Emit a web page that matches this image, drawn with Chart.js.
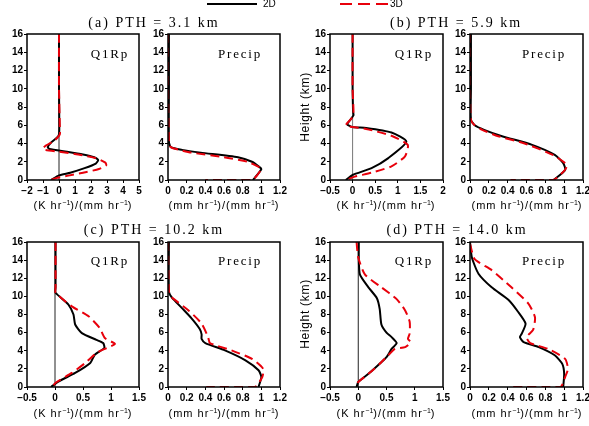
<!DOCTYPE html>
<html>
<head>
<meta charset="utf-8">
<script src="https://cdn.jsdelivr.net/npm/chart.js@4.4.1/dist/chart.umd.min.js"></script>
<style>
body { margin: 0; width: 589px; height: 426px; overflow: hidden; background: #fff; position: relative; font-family: "Liberation Sans", sans-serif; }
.box { position: absolute; }
.title { position: absolute; font-family: "Liberation Serif", serif; font-size: 14px; letter-spacing: 2px; white-space: nowrap; transform: translate(-50%, -50%); }
.plab { position: absolute; font-family: "Liberation Serif", serif; font-size: 13px; letter-spacing: 1.8px; white-space: nowrap; transform: translate(-50%, -50%); }
.unit { position: absolute; font-size: 11px; letter-spacing: 1px; white-space: nowrap; transform: translate(-50%, -50%); }
.unit sup { font-size: 7px; letter-spacing: 0; }
.ht { position: absolute; font-size: 12px; letter-spacing: 0.7px; white-space: nowrap; transform: translate(-50%, -50%) rotate(-90deg); }
.leg { position: absolute; font-size: 10px; transform: translateY(-50%); }
</style>
</head>
<body>
<script>
// profiles as [value, height km]
const q1a2d = [[0,16],[0,10],[0.02,6],[0,5],[-0.15,4.6],[-0.5,4.1],[-0.7,3.6],[-0.6,3.4],[0.5,3.1],[1.5,2.8],[2.2,2.5],[2.45,2.2],[2.3,1.8],[1.6,1.3],[0.7,0.8],[0,0.5],[-0.5,0]];
const q1a3d = [[0,16],[0,10],[0.05,6],[0.05,5],[-0.3,4.3],[-0.8,3.8],[-1.0,3.5],[-0.9,3.3],[0,3.1],[1.2,2.8],[2.3,2.4],[2.9,1.9],[2.95,1.6],[2.5,1.2],[1.5,0.8],[0.5,0.45],[-0.2,0.2],[-0.5,0]];
const pra2d = [[0.01,16],[0.01,10],[0.01,4.2],[0.03,3.6],[0.15,3.3],[0.35,3.0],[0.75,2.5],[0.9,2.0],[0.97,1.5],[1.0,1.2],[0.91,0]];
const pra3d = [[0,16],[0,10],[0.01,4.2],[0.03,3.6],[0.12,3.3],[0.25,3.0],[0.6,2.5],[0.85,2.0],[0.96,1.5],[1.0,1.2],[0.9,0],[0.4,0]];

const q1b2d = [[0,16],[0,10],[0.01,7.5],[0.02,7.1],[-0.05,6.6],[-0.12,6.1],[0,5.8],[0.3,5.7],[0.86,5.2],[1.19,4.2],[0.79,2.4],[0.42,1.3],[0,0.55],[-0.15,0]];
const q1b3d = [[0,16],[0,10],[0.02,7.5],[0,6.9],[-0.15,6.0],[0,5.8],[0.3,5.6],[0.86,4.85],[1.22,3.85],[1.16,2.6],[0.86,1.5],[0.42,0.8],[0.05,0.37],[-0.15,0]];
const prb2d = [[0.01,16],[0.01,10],[0.01,6.6],[0.05,6.0],[0.15,5.5],[0.34,4.8],[0.66,3.85],[0.9,2.75],[0.99,1.85],[1.01,1.1],[0.89,0]];
const prb3d = [[0,16],[0,10],[0.01,6.6],[0.05,6.0],[0.13,5.5],[0.3,4.8],[0.58,4.0],[0.88,2.75],[1.03,1.65],[1.0,1.0],[0.88,0],[0.43,0]];

const q1c2d = [[0.01,16],[0.01,11],[0.01,10.4],[0.24,9.1],[0.33,8.0],[0.36,6.9],[0.48,5.95],[0.74,5.2],[0.86,4.85],[0.88,4.3],[0.71,3.55],[0.63,2.65],[0.36,1.55],[0.06,0.6],[-0.07,0]];
const q1c3d = [[0.01,16],[0.01,11],[0.01,10.4],[0.3,8.9],[0.6,7.8],[0.8,6.5],[0.89,5.4],[1.07,4.75],[0.92,4.3],[0.74,3.75],[0.54,2.65],[0.3,1.55],[0.03,0.55],[-0.06,0]];
const prc2d = [[0.01,16],[0.01,10.5],[0.04,9.9],[0.15,8.7],[0.25,7.6],[0.34,6.4],[0.36,5.8],[0.36,5.3],[0.4,4.85],[0.61,4.05],[0.83,2.95],[0.97,1.85],[1.0,1.1],[0.97,0]];
const prc3d = [[0,16],[0.01,10.5],[0.04,9.9],[0.22,8.45],[0.36,7.0],[0.43,5.5],[0.45,4.85],[0.68,4.05],[0.9,3.1],[1.02,2.0],[1.01,1.1],[0.93,0],[0.41,0]];

const q1d2d = [[0.01,16],[0.01,14],[0.03,12.4],[0.18,11.0],[0.33,9.8],[0.38,8.6],[0.41,6.9],[0.5,6.0],[0.59,5.5],[0.68,4.85],[0.59,4.2],[0.5,3.3],[0.35,2.4],[0.18,1.45],[0,0.55],[-0.03,0]];
const q1d3d = [[-0.03,16],[0,14.3],[0.12,12.4],[0.41,11.0],[0.68,9.7],[0.83,8.45],[0.91,7.2],[0.91,5.9],[0.88,5.3],[0.93,4.95],[0.83,4.4],[0.65,4.2],[0.53,3.5],[0.38,2.55],[0.18,1.45],[0,0.55],[-0.04,0]];
const prd2d = [[0,16],[0.02,14.3],[0.09,12.5],[0.23,11.0],[0.41,9.6],[0.51,8.3],[0.59,7.0],[0.55,5.9],[0.53,5.5],[0.57,4.95],[0.73,4.4],[0.9,3.5],[0.98,2.55],[1.0,1.45],[0.99,0]];
const prd3d = [[0,15.8],[0.05,14.1],[0.23,12.9],[0.44,11.0],[0.62,9.2],[0.69,7.7],[0.67,6.3],[0.6,5.5],[0.64,4.85],[0.83,4.2],[1.01,3.1],[1.04,2.0],[1.01,1.1],[0.96,0],[0.45,0]];

const zeroLine = [[0,0],[0,16]];

// x axis ranges [min, max, step]
const q1RangeA = [-2, 5, 1];
const q1RangeB = [-0.5, 2, 0.5];
const q1RangeCD = [-0.5, 1.5, 0.5];
const precipRange = [0, 1.2, 0.2];
const heightRange = [0, 16, 2];

const titles = ['(a) PTH = 3.1 km', '(b) PTH = 5.9 km', '(c) PTH = 10.2 km', '(d) PTH = 14.0 km'];

const panels = [
  { x0: 27,  x1: 139, y0: 34,  y1: 180, a: q1a2d, b: q1a3d, r: q1RangeA,    q1: true },
  { x0: 168, x1: 280, y0: 34,  y1: 180, a: pra2d, b: pra3d, r: precipRange, q1: false },
  { x0: 330, x1: 443, y0: 34,  y1: 180, a: q1b2d, b: q1b3d, r: q1RangeB,    q1: true, zc: '#777' },
  { x0: 470, x1: 583, y0: 34,  y1: 180, a: prb2d, b: prb3d, r: precipRange, q1: false },
  { x0: 27,  x1: 139, y0: 242, y1: 387, a: q1c2d, b: q1c3d, r: q1RangeCD,   q1: true },
  { x0: 168, x1: 280, y0: 242, y1: 387, a: prc2d, b: prc3d, r: precipRange, q1: false },
  { x0: 330, x1: 443, y0: 242, y1: 387, a: q1d2d, b: q1d3d, r: q1RangeCD,   q1: true },
  { x0: 470, x1: 583, y0: 242, y1: 387, a: prd2d, b: prd3d, r: precipRange, q1: false }
];

const pts = arr => arr.map(p => ({ x: p[0], y: p[1] }));
const fmt = v => String(Number(v.toFixed(2))).replace('-', '\u2212');

const frame = {
  id: 'frame',
  afterDatasetsDraw(c) {
    const a = c.chartArea, ctx = c.ctx;
    ctx.save();
    ctx.strokeStyle = '#000';
    ctx.lineWidth = 1.5;
    ctx.strokeRect(a.left, a.top, a.right - a.left, a.bottom - a.top);
    ctx.restore();
  }
};

const YW = 30, PT = 10, PR = 12, XH = 22;
const tickFont = { family: 'Liberation Sans', size: 10, weight: 'bold' };

panels.forEach(p => {
  const div = document.createElement('div');
  div.className = 'box';
  div.style.left = (p.x0 - YW) + 'px';
  div.style.top = (p.y0 - PT) + 'px';
  div.style.width = (p.x1 - p.x0 + YW + PR) + 'px';
  div.style.height = (p.y1 - p.y0 + PT + XH) + 'px';
  const cv = document.createElement('canvas');
  div.appendChild(cv);
  document.body.appendChild(div);

  const ds = [
    { data: pts(p.b), borderColor: '#e8000b', borderWidth: 2, borderDash: [9, 5] },
    { data: pts(p.a), borderColor: '#000', borderWidth: 2 }
  ];
  if (p.q1) ds.push({ data: pts(zeroLine), borderColor: p.zc || '#222', borderWidth: 1, tension: 0 });

  new Chart(cv, {
    type: 'scatter',
    data: { datasets: ds },
    options: {
      responsive: true,
      maintainAspectRatio: false,
      animation: false,
      events: [],
      layout: { padding: { top: PT, right: PR, left: 0, bottom: 0 } },
      elements: { point: { radius: 0 }, line: { tension: 0.2, fill: false } },
      datasets: { scatter: { showLine: true } },
      plugins: { legend: { display: false }, tooltip: { enabled: false } },
      scales: {
        x: {
          type: 'linear', min: p.r[0], max: p.r[1],
          ticks: { stepSize: p.r[2], font: tickFont, color: '#000', padding: 2, maxRotation: 0, autoSkip: false, callback: fmt },
          grid: { drawOnChartArea: false, drawTicks: true, tickLength: 3, color: '#000' },
          border: { display: false },
          afterFit: s => { s.height = XH; }
        },
        y: {
          type: 'linear', min: heightRange[0], max: heightRange[1],
          ticks: { stepSize: heightRange[2], font: tickFont, color: '#000', padding: 1, callback: fmt },
          grid: { drawOnChartArea: false, drawTicks: true, tickLength: 3, color: '#000' },
          border: { display: false },
          afterFit: s => { s.width = YW; }
        }
      }
    },
    plugins: [frame]
  });
});

function addText(cls, html, x, y) {
  const d = document.createElement('div');
  d.className = cls;
  d.innerHTML = html;
  d.style.left = x + 'px';
  d.style.top = y + 'px';
  document.body.appendChild(d);
}

// titles
addText('title', titles[0], 154, 23);
addText('title', titles[1], 456, 23);
addText('title', titles[2], 154, 230);
addText('title', titles[3], 457, 230);

// panel labels
[[110, 54], [414, 54], [110, 261], [414, 261]].forEach(q => addText('plab', 'Q1Rp', q[0], q[1]));
[[240, 54], [544, 54], [240, 261], [544, 261]].forEach(q => addText('plab', 'Precip', q[0], q[1]));

// units
const kUnit = '(K hr<sup>\u22121</sup>)/(mm hr<sup>\u22121</sup>)';
const mUnit = '(mm hr<sup>\u22121</sup>)/(mm hr<sup>\u22121</sup>)';
[[83, 205], [386, 205], [83, 413], [386, 413]].forEach(q => addText('unit', kUnit, q[0], q[1]));
[[224, 205], [527, 205], [224, 413], [527, 413]].forEach(q => addText('unit', mUnit, q[0], q[1]));

// height labels
addText('ht', 'Height (km)', 305, 107);
addText('ht', 'Height (km)', 305, 314);

// legend
const l1 = document.createElement('div');
l1.style.cssText = 'position:absolute;left:207px;top:3px;width:50px;height:2px;background:#000';
document.body.appendChild(l1);
const l2 = document.createElement('div');
l2.style.cssText = 'position:absolute;left:340px;top:3px;width:48px;height:2px;background:repeating-linear-gradient(90deg,#e8000b 0 12px,transparent 12px 18px)';
document.body.appendChild(l2);
addText('leg', '2D', 263, 3);
addText('leg', '3D', 390, 3);
</script>
</body>
</html>
